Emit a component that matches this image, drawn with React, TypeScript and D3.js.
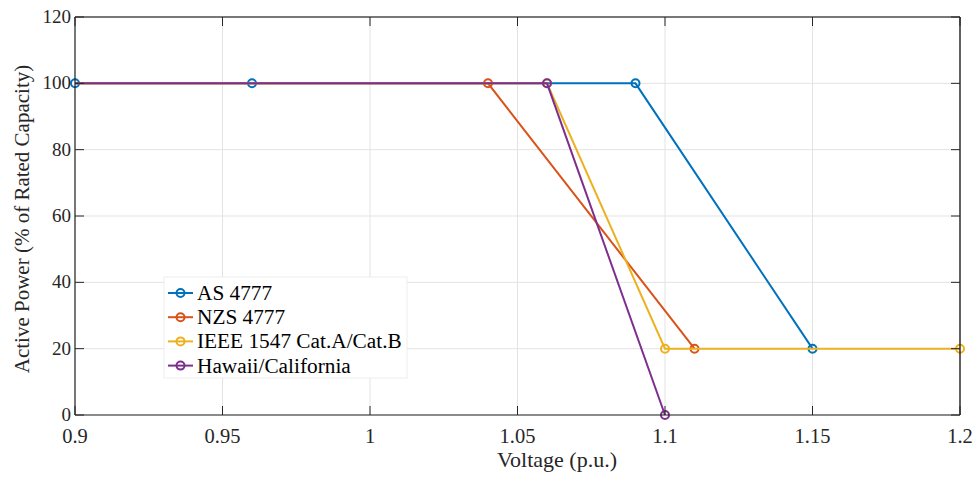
import React from "react";
import * as d3 from "d3";

const xTicks = [0.9, 0.95, 1, 1.05, 1.1, 1.15, 1.2];
const xTickLabels = ["0.9", "0.95", "1", "1.05", "1.1", "1.15", "1.2"];
const yTicks = [0, 20, 40, 60, 80, 100, 120];

const seriesNames = ["AS 4777", "NZS 4777", "IEEE 1547 Cat.A/Cat.B", "Hawaii/California"];
const asX = [0.9, 0.96, 1.09, 1.15];
const asY = [100, 100, 100, 20];
const nzsX = [0.8, 1.04, 1.11];
const nzsY = [100, 100, 20];
const ieeeX = [0.8, 1.06, 1.1, 1.2];
const ieeeY = [100, 100, 20, 20];
const hawX = [0.8, 1.06, 1.1];
const hawY = [100, 100, 0];
const colors = ["#0072BD", "#D95319", "#EDB120", "#7E2F8E"];

const W = 979, H = 479;
const L = 75, R = 960, T = 17, B = 415;

export default function App() {
  const x = d3.scaleLinear().domain([0.9, 1.2]).range([L, R]);
  const y = d3.scaleLinear().domain([0, 120]).range([B, T]);
  const series = [
    { xs: asX, ys: asY },
    { xs: nzsX, ys: nzsY },
    { xs: ieeeX, ys: ieeeY },
    { xs: hawX, ys: hawY },
  ];
  const line = d3.line<[number, number]>().x(d => x(d[0])).y(d => y(d[1]));
  const font = "'Liberation Serif', 'Times New Roman', serif";
  return (
    <svg width={W} height={H} style={{ position: "absolute", left: 0, top: 0 }} fontFamily={font}>
      <rect x={0} y={0} width={W} height={H} fill="#fff" />
      <defs>
        <clipPath id="plotclip">
          <rect x={L - 6} y={T - 6} width={R - L + 12} height={B - T + 12} />
        </clipPath>
        <clipPath id="lineclip">
          <rect x={L} y={T - 6} width={R - L} height={B - T + 12} />
        </clipPath>
      </defs>
      {xTicks.map((t, i) => (
        <line key={"gx" + i} x1={x(t)} x2={x(t)} y1={T} y2={B} stroke="#e3e3e3" strokeWidth={1} />
      ))}
      {yTicks.map((t, i) => (
        <line key={"gy" + i} x1={L} x2={R} y1={y(t)} y2={y(t)} stroke="#e3e3e3" strokeWidth={1} />
      ))}
      <g clipPath="url(#plotclip)">
        {series.map((s, i) => {
          const pts: [number, number][] = s.xs.map((v, j) => [v, s.ys[j]]);
          return (
            <g key={"s" + i}>
              <path d={line(pts) || ""} fill="none" stroke={colors[i]} strokeWidth={2} clipPath="url(#lineclip)" />
              {pts.filter(p => p[0] >= 0.9 && p[0] <= 1.2).map((p, j) => (
                <circle key={j} cx={x(p[0])} cy={y(p[1])} r={4} fill="none" stroke={colors[i]} strokeWidth={2} />
              ))}
            </g>
          );
        })}
      </g>
      {/* axes box */}
      <line x1={L} x2={R} y1={T} y2={T} stroke="#000" strokeWidth={1.2} />
      <line x1={R} x2={R} y1={T} y2={B} stroke="#000" strokeWidth={1.2} />
      <line x1={L} x2={R} y1={B} y2={B} stroke="#262626" strokeWidth={1.2} />
      <line x1={L} x2={L} y1={T} y2={B} stroke="#262626" strokeWidth={1.2} />
      {xTicks.map((t, i) => (
        <g key={"tx" + i}>
          <line x1={x(t)} x2={x(t)} y1={B} y2={B - 9} stroke="#262626" strokeWidth={1} />
          <line x1={x(t)} x2={x(t)} y1={T} y2={T + 9} stroke="#262626" strokeWidth={1} />
          <text x={x(t)} y={443} textAnchor="middle" fontSize={20.5} fill="#262626">{xTickLabels[i]}</text>
        </g>
      ))}
      {yTicks.map((t, i) => (
        <g key={"ty" + i}>
          <line x1={L} x2={L + 9} y1={y(t)} y2={y(t)} stroke="#262626" strokeWidth={1} />
          <line x1={R} x2={R - 9} y1={y(t)} y2={y(t)} stroke="#262626" strokeWidth={1} />
          <text x={L - 4} y={y(t) + 6} textAnchor="end" fontSize={19} fill="#262626">{t}</text>
        </g>
      ))}
      <text x={557} y={467} textAnchor="middle" fontSize={22} fill="#262626">Voltage (p.u.)</text>
      <text transform={`translate(29, 219) rotate(-90)`} textAnchor="middle" fontSize={21} fill="#262626">
        Active Power (% of Rated Capacity)
      </text>
      {/* legend */}
      <rect x={164} y={277} width={243} height={101} fill="#fff" stroke="#eeeeee" strokeWidth={1} />
      {seriesNames.map((n, i) => {
        const cy = 293 + i * 24.2;
        return (
          <g key={"lg" + i}>
            <line x1={168} x2={193} y1={cy} y2={cy} stroke={colors[i]} strokeWidth={2} />
            <circle cx={180.5} cy={cy} r={4} fill="none" stroke={colors[i]} strokeWidth={2} />
            <text x={197} y={cy + 7} fontSize={21.3} fill="#000">{n}</text>
          </g>
        );
      })}
    </svg>
  );
}
